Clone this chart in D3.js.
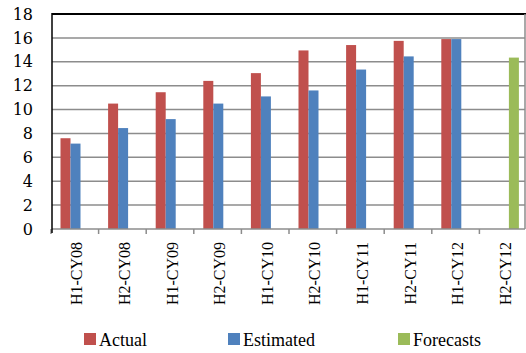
<!DOCTYPE html>
<html>
<head>
<meta charset="utf-8">
<script src="https://cdn.jsdelivr.net/npm/d3@7"></script>
<style>
  body { margin: 0; background: #fff; }
  svg { display: block; }
</style>
</head>
<body>
<div id="chart"></div>
<script>
// data
const categories = ["H1-CY08", "H2-CY08", "H1-CY09", "H2-CY09", "H1-CY10",
                    "H2-CY10", "H1-CY11", "H2-CY11", "H1-CY12", "H2-CY12"];
const actual    = [7.6, 10.5, 11.45, 12.4, 13.05, 14.95, 15.4, 15.75, 15.9, null];
const estimated = [7.15, 8.45, 9.2, 10.5, 11.1, 11.6, 13.35, 14.45, 15.9, null];
const forecasts = [null, null, null, null, null, null, null, null, null, 14.35];
const seriesNames = ["Actual", "Estimated", "Forecasts"];
const colors = ["#C0504D", "#4F81BD", "#9BBB59"];
const yTicks = [0, 2, 4, 6, 8, 10, 12, 14, 16, 18];

const svg = d3.select("#chart")
    .append("svg")
    .attr("width", 526)
    .attr("height", 353)

const pLeft = 52, pRight = 525, pTop = 14, pBottom = 229

const x = d3.scaleBand()
    .domain(categories)
    .range([51, 527])

const x1 = d3.scaleBand()
    .domain(seriesNames)
    .range([9.5, 39.5])

const y = d3.scaleLinear()
    .domain([0, 18])
    .range([pBottom, pTop])

// gridlines
svg.append("g")
    .selectAll("line")
    .data(yTicks.filter(d => d > 0 && d < 18))
    .enter().append("line")
    .attr("x1", pLeft).attr("x2", pRight)
    .attr("y1", d => y(d)).attr("y2", d => y(d))
    .attr("stroke", "#8c8c8c")
    .attr("stroke-width", 1.5)

// bars
const table = categories.map((c, i) => ({
    cat: c,
    vals: [actual[i], estimated[i], forecasts[i]]
}))

const groups = svg.append("g")
    .selectAll("g")
    .data(table)
    .enter().append("g")
    .attr("transform", d => `translate(${x(d.cat)}, 0)`)

groups.selectAll("rect")
    .data(d => d.vals.map((v, k) => ({ name: seriesNames[k], v: v, k: k })).filter(e => e.v != null))
    .enter().append("rect")
    .attr("x", d => x1(d.name))
    .attr("y", d => y(d.v))
    .attr("width", x1.bandwidth())
    .attr("height", d => pBottom - y(d.v))
    .attr("fill", d => colors[d.k])

// plot frame: black top, gray right
svg.append("line")
    .attr("x1", pLeft).attr("x2", pRight + 1)
    .attr("y1", pTop).attr("y2", pTop)
    .attr("stroke", "#000").attr("stroke-width", 2)
svg.append("line")
    .attr("x1", pRight).attr("x2", pRight)
    .attr("y1", pTop).attr("y2", pBottom)
    .attr("stroke", "#8c8c8c").attr("stroke-width", 1.5)

// x axis: boundary ticks + rotated labels
const xAxis = svg.append("g")
xAxis.append("line")
    .attr("x1", pLeft).attr("x2", pRight)
    .attr("y1", pBottom).attr("y2", pBottom)
    .attr("stroke", "#8c8c8c").attr("stroke-width", 1.5)
xAxis.selectAll(".tk")
    .data(categories)
    .enter().append("line")
    .attr("class", "tk")
    .attr("x1", d => x(d)).attr("x2", d => x(d))
    .attr("y1", pBottom).attr("y2", pBottom + 5)
    .attr("stroke", "#8c8c8c").attr("stroke-width", 1.5)

xAxis.selectAll("text")
    .data(categories)
    .enter().append("text")
    .attr("transform", d => `translate(${x(d) + x.bandwidth() / 2}, 242) rotate(-90)`)
    .attr("dy", 7.5)
    .attr("text-anchor", "end")
    .attr("font-family", "Liberation Serif, serif")
    .attr("font-size", 16)
    .attr("fill", "#000")
    .text(d => d)

// y axis
const yAxisCall = d3.axisLeft(y)
    .tickValues(yTicks)
    .tickSize(0)
    .tickPadding(19)
    .tickFormat(d => d)
const yAxis = svg.append("g")
    .attr("transform", `translate(${pLeft}, 0)`)
    .call(yAxisCall)
yAxis.select(".domain").remove()
yAxis.selectAll("text")
    .attr("font-family", "DejaVu Serif, serif")
    .attr("font-size", 16)
    .attr("fill", "#000")
svg.append("line")
    .attr("x1", pLeft).attr("x2", pLeft)
    .attr("y1", pTop - 1).attr("y2", pBottom + 4)
    .attr("stroke", "#000").attr("stroke-width", 1.5)

// legend
const legendX = [84, 228, 398]
const legend = svg.append("g")
    .selectAll("g")
    .data(seriesNames)
    .enter().append("g")
    .attr("transform", (d, i) => `translate(${legendX[i]}, 333)`)
legend.append("rect")
    .attr("width", 12).attr("height", 12)
    .attr("fill", (d, i) => colors[i])
legend.append("text")
    .attr("x", 15).attr("y", 12.5)
    .attr("font-family", "Liberation Serif, serif")
    .attr("font-size", 18)
    .attr("fill", "#000")
    .text(d => d)
</script>
</body>
</html>
